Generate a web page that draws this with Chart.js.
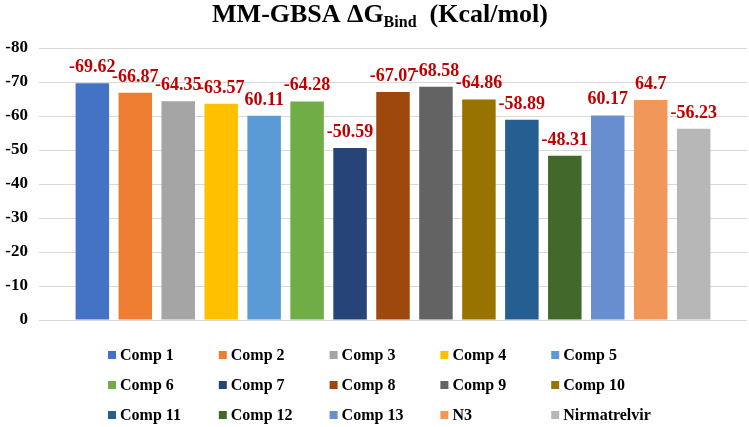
<!DOCTYPE html>
<html>
<head>
<title>MM-GBSA dG Bind</title>
<script src="https://cdn.jsdelivr.net/npm/chart.js"></script>
<style>
  html, body { margin: 0; padding: 0; background: #fff; }
  #wrap { position: relative; width: 749px; height: 427px; }
</style>
</head>
<body>
<div id="wrap"><canvas id="myChart" width="749" height="427"></canvas></div>
<script>
// compounds, values and the label text as printed above each bar
const compounds = ['Comp 1', 'Comp 2', 'Comp 3', 'Comp 4', 'Comp 5', 'Comp 6', 'Comp 7', 'Comp 8',
                   'Comp 9', 'Comp 10', 'Comp 11', 'Comp 12', 'Comp 13', 'N3', 'Nirmatrelvir'];
const bindValues = [-69.62, -66.87, -64.35, -63.57, -60.11, -64.28, -50.59, -67.07,
                    -68.58, -64.86, -58.89, -48.31, -60.17, -64.7, -56.23];
const valueLabels = ['-69.62', '-66.87', '-64.35', '-63.57', '60.11', '-64.28', '-50.59', '-67.07',
                     '-68.58', '-64.86', '-58.89', '-48.31', '60.17', '64.7', '-56.23'];
const barColors = ['#4472C4', '#ED7D31', '#A5A5A5', '#FFC000', '#5B9BD5', '#70AD47', '#264478', '#9E480E',
                   '#636363', '#997300', '#255E91', '#43682B', '#698ED0', '#F1975A', '#B7B7B7'];
const yTicks = [0, -10, -20, -30, -40, -50, -60, -70, -80];

const serif = '"Liberation Serif", "Times New Roman", serif';

// title with subscript
const titlePlugin = {
    id: 'titleText',
    afterDraw(chart) {
        const c = chart.ctx;
        c.save();
        c.fillStyle = '#000';
        c.textBaseline = 'alphabetic';
        const big = 'bold 26px ' + serif, small = 'bold 16px ' + serif;
        const p1 = 'MM-GBSA \u0394G', p2 = 'Bind', p3 = '  (Kcal/mol)';
        c.font = big; const w1 = c.measureText(p1).width, w3 = c.measureText(p3).width;
        c.font = small; const w2 = c.measureText(p2).width;
        let x = 380 - (w1 + w2 + w3) / 2;
        const y = 22;
        c.font = big; c.fillText(p1, x, y); x += w1;
        c.font = small; c.fillText(p2, x, y + 5); x += w2;
        c.font = big; c.fillText(p3, x, y);
        c.restore();
    }
};

// red labels above the bars
const valueLabelPlugin = {
    id: 'valueLabels',
    afterDatasetsDraw(chart) {
        const c = chart.ctx;
        c.save();
        c.font = 'bold 18px ' + serif;
        c.fillStyle = '#C00000';
        c.textAlign = 'center';
        c.textBaseline = 'alphabetic';
        chart.data.datasets.forEach((ds, i) => {
            const bar = chart.getDatasetMeta(i).data[0];
            c.fillText(valueLabels[i], bar.x, bar.y - 11);
        });
        c.restore();
    }
};

// legend laid out in a 5 column grid
const gridLegend = {
    id: 'gridLegend',
    afterDraw(chart) {
        const c = chart.ctx;
        c.save();
        c.font = 'bold 16px ' + serif;
        c.textBaseline = 'middle';
        chart.data.datasets.forEach((ds, i) => {
            const col = i % 5, row = Math.floor(i / 5);
            const x = 108 + col * 110.8, y = 355 + row * 30;
            c.fillStyle = ds.backgroundColor;
            c.fillRect(x, y - 4, 8, 8);
            c.fillStyle = '#000';
            c.fillText(ds.label, x + 12, y + 1);
        });
        c.restore();
    }
};

new Chart(document.getElementById('myChart'), {
    type: 'bar',
    data: {
        labels: [''],
        datasets: compounds.map((name, i) => ({
            label: name,
            data: [bindValues[i]],
            backgroundColor: barColors[i],
            categoryPercentage: 0.91,
            barPercentage: 0.78
        }))
    },
    options: {
        responsive: false,
        animation: false,
        layout: { padding: { top: 48, bottom: 107, left: 4, right: 2 } },
        plugins: { legend: { display: false }, tooltip: { enabled: false } },
        scales: {
            x: { display: false },
            y: {
                min: -80, max: 0, reverse: true,
                afterFit: s => { s.width = 35; },
                afterBuildTicks: s => { s.ticks = yTicks.map(v => ({ value: v })); },
                grid: { color: '#D9D9D9', lineWidth: 1, drawTicks: false },
                border: { display: false },
                ticks: { color: '#000', padding: 11, font: { family: serif, size: 17, weight: 'bold' } }
            }
        }
    },
    plugins: [titlePlugin, valueLabelPlugin, gridLegend]
});
</script>
</body>
</html>
